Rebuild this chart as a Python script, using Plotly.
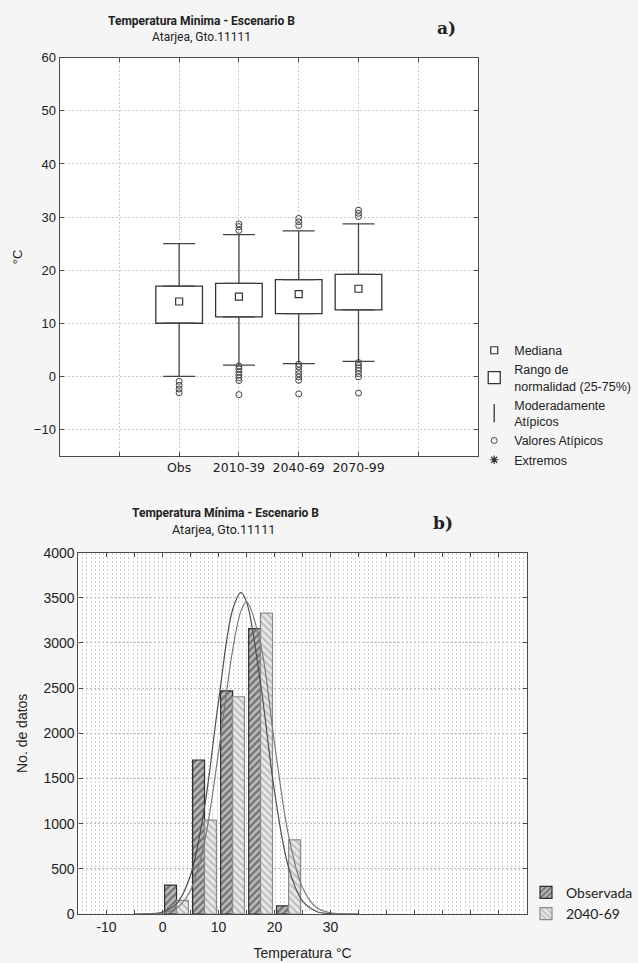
import plotly.graph_objects as go

# ---------------- Panel a) : box plots ----------------
categories = ["Obs", "2010-39", "2040-69", "2070-99"]
box_q1 = [10.0, 11.2, 11.8, 12.5]
box_q3 = [17.0, 17.5, 18.2, 19.2]
box_median = [14.1, 15.0, 15.5, 16.5]
whisker_low = [0.0, 2.1, 2.4, 2.8]
whisker_high = [25.0, 26.7, 27.4, 28.7]

outliers_obs = [-0.95, -1.7, -2.4, -3.1]
outliers_2010 = [27.5, 28.2, 28.7, 1.95, 1.4, 0.8, 0.25, -0.3, -0.8, -3.45]
outliers_2040 = [28.4, 29.1, 29.75, 2.3, 1.8, 1.1, 0.5, -0.1, -0.75, -3.3]
outliers_2070 = [30.1, 30.7, 31.3, 2.6, 2.1, 1.6, 1.1, 0.5, -0.1, -3.15]

a_tick_labels = ["", "Obs", "2010-39", "2040-69", "2070-99", ""]
a_y_ticks = [-10, 0, 10, 20, 30, 40, 50, 60]

# ---------------- Panel b) : histogram ----------------
hist_bins = [2.5, 7.5, 12.5, 17.5, 22.5]
hist_obs = [320, 1705, 2470, 3160, 90]
hist_2040 = [150, 1040, 2405, 3330, 820]

curve_x = [-5, -2.5, 0, 2.5, 5, 7.5, 10, 12.5, 14, 15, 17.5, 20, 22.5, 25, 27.5, 30, 32.5, 35]
curve_obs = [0, 3, 21, 112, 429, 1185, 2356, 3365, 3557, 3455, 2550, 1352, 516, 141, 28, 4, 0, 0]
curve_2040 = [0, 1, 11, 63, 263, 804, 1792, 2915, 3353, 3456, 2990, 1885, 867, 291, 71, 13, 2, 0]

b_x_ticks = [-15, -10, -5, 0, 5, 10, 15, 20, 25, 30, 35, 40, 45, 50, 55, 60, 65]
b_x_labels = ["", "-10", "", "0", "", "10", "", "20", "", "30", "", "", "", "", "", "", ""]
b_y_ticks = [0, 500, 1000, 1500, 2000, 2500, 3000, 3500, 4000]

# -------------------------------------------------------
positions = [i + 1 for i in range(len(categories))]
all_outliers = [outliers_obs, outliers_2010, outliers_2040, outliers_2070]
out_x, out_y = [], []
for p, vals in zip(positions, all_outliers):
    out_x += [p] * len(vals)
    out_y += vals

AX = "#4a4a4a"
GRID = "#c9c9c9"
FONT_A = "Liberation Sans, Arial, sans-serif"

fig = go.Figure()

# Box (interquartile range) as bars
fig.add_trace(go.Bar(
    x=positions, base=box_q1, y=[h - l for h, l in zip(box_q3, box_q1)],
    width=0.78, marker=dict(color="white", line=dict(color="#333333", width=1.3)),
    name="Rango de<br>normalidad (25-75%)", legend="legend", legendrank=2,
    xaxis="x", yaxis="y", hoverinfo="skip"))

# Whiskers (upper / lower) via asymmetric error bars
fig.add_trace(go.Scatter(
    x=positions, y=box_q3, mode="markers", marker=dict(size=1, opacity=0),
    error_y=dict(type="data", symmetric=False,
                 array=[h - q for h, q in zip(whisker_high, box_q3)],
                 arrayminus=[0] * len(positions), width=16, thickness=1.3, color="#444444"),
    showlegend=False, xaxis="x", yaxis="y", hoverinfo="skip"))
fig.add_trace(go.Scatter(
    x=positions, y=box_q1, mode="markers", marker=dict(size=1, opacity=0),
    error_y=dict(type="data", symmetric=False,
                 array=[0] * len(positions),
                 arrayminus=[q - l for q, l in zip(box_q1, whisker_low)], width=16, thickness=1.3, color="#444444"),
    showlegend=False, xaxis="x", yaxis="y", hoverinfo="skip"))

# Median markers
fig.add_trace(go.Scatter(
    x=positions, y=box_median, mode="markers",
    marker=dict(symbol="square-open", size=7, color="#333333", line=dict(width=1.2)),
    name="Mediana", legend="legend", legendrank=1, xaxis="x", yaxis="y"))

# legend-only entry for whiskers
fig.add_trace(go.Scatter(
    x=[None], y=[None], mode="markers",
    marker=dict(symbol="line-ns-open", size=13, color="#333333", line=dict(width=1.3)),
    name="Moderadamente<br>Atípicos", legend="legend", legendrank=3, xaxis="x", yaxis="y"))

# Outliers
fig.add_trace(go.Scatter(
    x=out_x, y=out_y, mode="markers",
    marker=dict(symbol="circle-open", size=6, color="#444444", line=dict(width=1)),
    name="Valores Atípicos", legend="legend", legendrank=4, xaxis="x", yaxis="y"))

# Extremes (none present)
fig.add_trace(go.Scatter(
    x=[None], y=[None], mode="markers",
    marker=dict(symbol="asterisk-open", size=7, color="#333333", line=dict(width=1.2)),
    name="Extremos", legend="legend", legendrank=5, xaxis="x", yaxis="y"))

# ---- Histogram ----
fig.add_trace(go.Bar(
    x=hist_bins, y=hist_obs, name="Observada", legend="legend2",
    marker=dict(color="#b4b4b4", line=dict(color="#2e2e2e", width=1.2),
                pattern=dict(shape="/", fgcolor="#2e2e2e", bgcolor="#bdbdbd", size=5, solidity=0.5)),
    xaxis="x2", yaxis="y2"))
fig.add_trace(go.Bar(
    x=hist_bins, y=hist_2040, name="2040-69", legend="legend2",
    marker=dict(color="#e0e0e0", line=dict(color="#8a8a8a", width=1.2),
                pattern=dict(shape="\\", fgcolor="#959595", bgcolor="#eaeaea", size=5, solidity=0.45)),
    xaxis="x2", yaxis="y2"))

fig.add_trace(go.Scatter(
    x=curve_x, y=curve_obs, mode="lines", line=dict(color="#505050", width=1.2, shape="spline"),
    showlegend=False, xaxis="x2", yaxis="y2", hoverinfo="skip"))
fig.add_trace(go.Scatter(
    x=curve_x, y=curve_2040, mode="lines", line=dict(color="#7a7a7a", width=1.2, shape="spline"),
    showlegend=False, xaxis="x2", yaxis="y2", hoverinfo="skip"))

axis_common = dict(showline=True, linecolor=AX, linewidth=1.2, mirror="ticks",
                   ticks="inside", ticklen=4, tickcolor=AX, zeroline=False, automargin=False)

fig.update_layout(
    width=638, height=963, autosize=False,
    margin=dict(l=0, r=0, t=0, b=0, pad=0),
    paper_bgcolor="#f5f5f5", plot_bgcolor="white",
    font=dict(family=FONT_A, size=13, color="#222222"),
    barmode="group", bargap=0.15, bargroupgap=0.0,
    xaxis=dict(domain=[0.094, 0.754], anchor="y", range=[-1, 6],
               tickmode="array", tickvals=[0, 1, 2, 3, 4, 5], ticktext=a_tick_labels,
               tickfont=dict(family="DejaVu Sans, sans-serif", size=12.5, color="#222"),
               showgrid=True, gridcolor=GRID, griddash="2px,2px", gridwidth=1, **axis_common),
    yaxis=dict(domain=[0.5265, 0.940], anchor="x", range=[-15, 60],
               tickmode="array", tickvals=a_y_ticks,
               tickfont=dict(size=13),
               showgrid=True, gridcolor=GRID, griddash="2px,2px", gridwidth=1,
               title=dict(text="°C", font=dict(size=13), standoff=8), **axis_common),
    xaxis2=dict(domain=[0.1238, 0.8307], anchor="y2", range=[-15, 65],
                tickmode="array", tickvals=b_x_ticks, ticktext=b_x_labels,
                tickfont=dict(size=14),
                showgrid=False,
                minor=dict(tickmode="linear", tick0=-15, dtick=0.75, showgrid=True,
                           gridcolor="#d2d2d2", griddash="2px,2px", gridwidth=1, ticks=""),
                title=dict(text="Temperatura °C", font=dict(size=14), standoff=14), **axis_common),
    yaxis2=dict(domain=[0.0509, 0.4261], anchor="x2", range=[0, 4000],
                tickmode="array", tickvals=b_y_ticks,
                tickfont=dict(size=14),
                showgrid=True, gridcolor="#bdbdbd", griddash="2px,2px", gridwidth=1,
                title=dict(text="No. de datos", font=dict(size=14), standoff=12), **axis_common),
    legend=dict(x=0.748, y=0.6515, xanchor="left", yanchor="top", bgcolor="rgba(0,0,0,0)",
                font=dict(size=12.5, family=FONT_A), tracegroupgap=0, itemwidth=30,
                traceorder="normal"),
    legend2=dict(x=0.83, y=0.0895, xanchor="left", yanchor="top", bgcolor="rgba(0,0,0,0)",
                 font=dict(size=14, family="Lato, Open Sans, sans-serif"), tracegroupgap=0,
                 itemwidth=30),
    showlegend=True,
)

TITLE_FONT = "Roboto, Liberation Sans, Arial, sans-serif"
annotations = [
    dict(text="<b>Temperatura Minima - Escenario B</b>", x=203 / 638, y=1 - 21.5 / 963,
         font=dict(size=12, family=TITLE_FONT)),
    dict(text="Atarjea, Gto.11111", x=203 / 638, y=1 - 37 / 963,
         font=dict(size=12, family=TITLE_FONT)),
    dict(text="<b>a)</b>", x=449 / 638, y=1 - 28 / 963,
         font=dict(size=17, family="DejaVu Serif, serif")),
    dict(text="<b>Temperatura Mínima - Escenario B</b>", x=227 / 638, y=1 - 513 / 963,
         font=dict(size=12, family=TITLE_FONT)),
    dict(text="Atarjea, Gto.11111", x=225 / 638, y=1 - 529 / 963,
         font=dict(size=12.5, family=TITLE_FONT)),
    dict(text="<b>b)</b>", x=446 / 638, y=1 - 523 / 963,
         font=dict(size=17, family="DejaVu Serif, serif")),
]
for a in annotations:
    a.update(xref="paper", yref="paper", showarrow=False, xanchor="center", yanchor="middle")
fig.update_layout(annotations=annotations)

fig.write_html("out.html", config={"displayModeBar": False},
               post_script="document.body.style.margin='0px';")
